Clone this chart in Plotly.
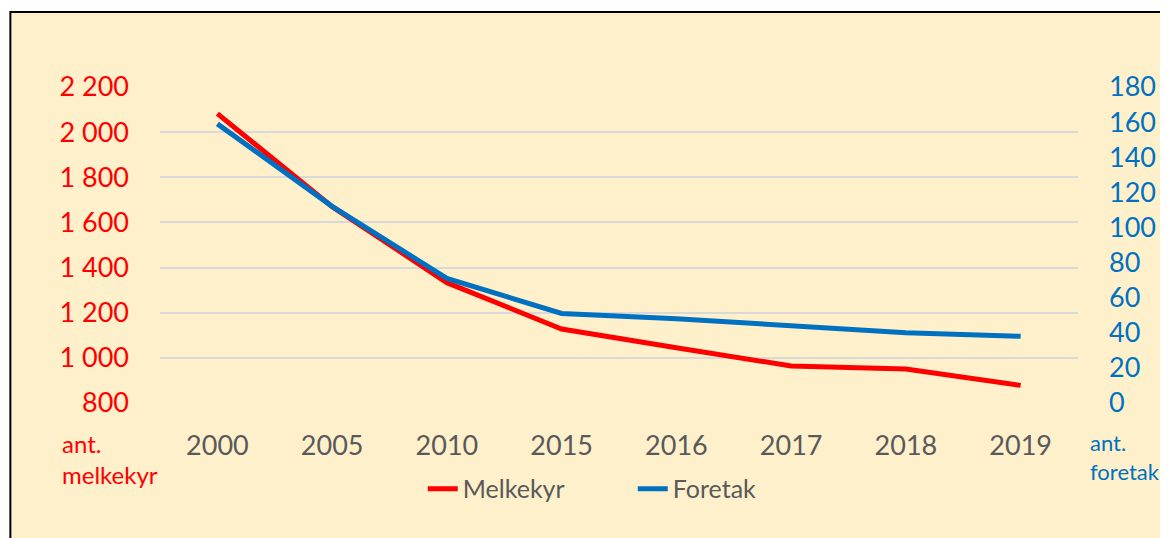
import plotly.graph_objects as go

years = ["2000", "2005", "2010", "2015", "2016", "2017", "2018", "2019"]
melkekyr = [2082, 1670, 1333, 1128, 1045, 964, 951, 878]
foretak = [159, 112, 71, 51, 48, 44, 40, 38]

RED = "#FF0000"
BLUE = "#0070C0"
GREY = "#595959"
FONT = "Lato"

fig = go.Figure()
fig.add_trace(go.Scatter(x=years, y=melkekyr, name="Melkekyr", mode="lines",
                         line=dict(color=RED, width=5)))
fig.add_trace(go.Scatter(x=years, y=foretak, name="Foretak", mode="lines",
                         line=dict(color=BLUE, width=5), yaxis="y2"))

# chart background box with black frame (top/left visible)
fig.add_shape(type="rect", xref="paper", yref="paper",
              x0=-0.163, x1=1.3, y0=-0.6, y1=1.237,
              fillcolor="#FFF0CC", line=dict(color="black", width=2), layer="below")

fig.add_annotation(text="ant.<br>melkekyr", xref="paper", yref="paper",
                   x=-0.109, y=-0.075, xanchor="left", yanchor="top", align="left",
                   showarrow=False, font=dict(family=FONT, size=24, color=RED))
fig.add_annotation(text="ant.<br>foretak", xref="paper", yref="paper",
                   x=1.011, y=-0.075, xanchor="left", yanchor="top", align="left",
                   showarrow=False, font=dict(family=FONT, size=22, color=BLUE))

# page body has an 8px margin, so the figure is 8px smaller and shifted
fig.update_layout(
    width=1160, height=530,
    margin=dict(l=152, r=88, t=79, b=135),
    paper_bgcolor="white",
    plot_bgcolor="rgba(0,0,0,0)",
    separators=", ",
    showlegend=True,
    legend=dict(orientation="h", x=0.515, xanchor="center", y=-0.272, yanchor="middle",
                entrywidth=165, font=dict(family=FONT, size=25, color=GREY),
                bgcolor="rgba(0,0,0,0)"),
    xaxis=dict(type="category", range=[-0.5, 7.5], showgrid=False, zeroline=False,
               showline=False, ticks="", tickfont=dict(family=FONT, size=27, color=GREY),
               ticklabelstandoff=24),
    yaxis=dict(range=[800, 2200], dtick=200, tickformat=",d", showgrid=True,
               gridcolor="#D9D9D9", gridwidth=2, zeroline=False, showline=False,
               tickfont=dict(family=FONT, size=27, color=RED), ticklabelstandoff=30),
    yaxis2=dict(range=[0, 180], dtick=20, overlaying="y", side="right", showgrid=False,
                zeroline=False, showline=False,
                tickfont=dict(family=FONT, size=27, color=BLUE), ticklabelstandoff=30),
)

fig.write_html("out.html")
